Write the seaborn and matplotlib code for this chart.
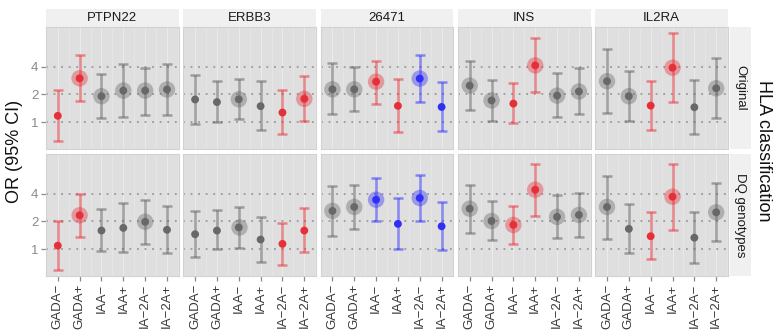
import numpy as np
import pandas as pd
import matplotlib
matplotlib.use("Agg")
import matplotlib.pyplot as plt
import seaborn as sns
from matplotlib.patches import Rectangle

genes = ["PTPN22", "ERBB3", "26471", "INS", "IL2RA"]
hla_levels = ["Original", "DQ genotypes"]
groups = ["GADA−", "GADA+", "IAA−", "IAA+", "IA−2A−", "IA−2A+"]

# Original HLA classification: odds ratios and 95% CI per gene
or_original = [
    [1.17, 2.99, 1.91, 2.20, 2.20, 2.26],
    [1.76, 1.65, 1.77, 1.49, 1.27, 1.79],
    [2.27, 2.27, 2.75, 1.50, 2.97, 1.46],
    [2.49, 1.72, 1.59, 4.13, 1.94, 2.15],
    [2.78, 1.91, 1.51, 3.90, 1.45, 2.33],
]
lo_original = [
    [0.62, 1.70, 1.11, 1.13, 1.20, 1.20],
    [0.95, 0.99, 1.07, 0.83, 0.74, 1.02],
    [1.22, 1.31, 1.59, 0.78, 1.66, 0.81],
    [1.36, 1.03, 0.97, 2.13, 1.13, 1.23],
    [1.25, 1.03, 0.83, 1.66, 0.74, 1.11],
]
hi_original = [
    [2.24, 5.30, 3.33, 4.28, 3.90, 4.24],
    [3.28, 2.80, 2.94, 2.78, 2.24, 3.14],
    [4.35, 3.97, 4.65, 2.92, 5.30, 2.71],
    [4.60, 2.87, 2.64, 8.20, 3.39, 3.84],
    [6.20, 3.62, 2.80, 9.30, 2.87, 5.00],
]
sig_original = ["rrnnnn", "nnnnrr", "nnrrbb", "nnrrnn", "nnrrnn"]
big_original = ["SLLLLL", "SSLSSL", "LLLSLS", "LLSLLL", "LLSLSL"]

# DQ genotypes
or_dq = [
    [1.09, 2.33, 1.59, 1.70, 1.98, 1.62],
    [1.45, 1.59, 1.72, 1.27, 1.14, 1.59],
    [2.60, 2.87, 3.44, 1.88, 3.59, 1.77],
    [2.75, 2.02, 1.83, 4.42, 2.24, 2.35],
    [2.87, 1.66, 1.38, 3.71, 1.33, 2.51],
]
lo_dq = [
    [0.59, 1.37, 0.95, 0.92, 1.13, 0.90],
    [0.83, 0.99, 1.04, 0.73, 0.68, 0.94],
    [1.40, 1.66, 2.02, 1.00, 2.00, 0.98],
    [1.51, 1.24, 1.13, 2.30, 1.31, 1.35],
    [1.30, 0.90, 0.78, 1.60, 0.70, 1.22],
]
hi_dq = [
    [2.04, 4.00, 2.73, 3.17, 3.44, 2.97],
    [2.62, 2.69, 2.87, 2.25, 1.94, 2.77],
    [4.89, 5.00, 5.95, 3.59, 6.40, 3.22],
    [5.00, 3.33, 2.97, 8.40, 3.87, 4.06],
    [6.30, 3.10, 2.51, 8.50, 2.53, 5.27],
]
sig_dq = ["rrnnnn", "nnnnrr", "nnbbbb", "nnrrnn", "nnrrnn"]
big_dq = ["SLSSLS", "SSLSSS", "LLLSLS", "LLLLLL", "LSSLSL"]

rows = []
for h, ors, los, his, sigs, bigs in [
    ("Original", or_original, lo_original, hi_original, sig_original, big_original),
    ("DQ genotypes", or_dq, lo_dq, hi_dq, sig_dq, big_dq),
]:
    for gi, g in enumerate(genes):
        for k, grp in enumerate(groups):
            rows.append(dict(hla=h, gene=g, group=grp, OR=ors[gi][k], lo=los[gi][k],
                             hi=his[gi][k], sig=sigs[gi][k], big=bigs[gi][k] == "L"))
df = pd.DataFrame(rows)
df["pos"] = pd.Categorical(df["group"], categories=groups).codes

dot_pal = {"n": "#686868", "r": "#e5303a", "b": "#3030f5"}
bar_pal = {"n": "#5a5a5a", "r": "#e82830", "b": "#2828ff"}

sns.set_style("white")
plt.rcParams["font.family"] = ["Liberation Sans", "DejaVu Sans"]

fig, axes = plt.subplots(2, 5, figsize=(7.73, 3.33), dpi=100, sharex=True, sharey=True)
fig.patch.set_facecolor("white")
fig.subplots_adjust(left=46 / 773, right=728 / 773, top=1 - 27 / 333,
                    bottom=1 - 276 / 333, wspace=0.034, hspace=0.041)

for ri, h in enumerate(hla_levels):
    for ci, g in enumerate(genes):
        ax = axes[ri, ci]
        ax.set_facecolor("#dfdfdf")
        sub = df[(df.hla == h) & (df.gene == g)]
        ax.set_yscale("log", base=2)
        ax.set_ylim(0.51, 10.8)
        ax.set_xlim(-0.54, 5.54)
        # grid
        for xv in range(len(groups)):
            ax.axvline(xv, color="white", lw=0.8, alpha=0.4, zorder=0)
            ax.axvline(xv + 0.5, color="white", lw=0.5, alpha=0.3, zorder=0)
        for yv in [1, 2, 4]:
            ax.axhline(yv, color="#9a9a9a", lw=1.3, ls=(0, (1, 3.2)), zorder=0.5)
        # error bars
        for s, part in sub.groupby("sig"):
            ax.errorbar(part["pos"], part["OR"],
                        yerr=[part["OR"] - part["lo"], part["hi"] - part["OR"]],
                        fmt="none", ecolor=bar_pal[s], alpha=0.5, elinewidth=1.8,
                        capsize=3.8, capthick=1.8, zorder=2)
        bigs = sub[sub.big]
        if len(bigs):
            sns.scatterplot(data=bigs, x="pos", y="OR", hue="sig", palette=dot_pal,
                            s=140, alpha=0.4, linewidth=0, legend=False, ax=ax, zorder=3)
        sns.scatterplot(data=sub, x="pos", y="OR", hue="sig", palette=dot_pal,
                        s=32, linewidth=0, legend=False, ax=ax, zorder=4)
        ax.set_xlabel("")
        ax.set_ylabel("")
        for sp in ax.spines.values():
            sp.set_color("#d2d2d2")
            sp.set_linewidth(0.8)
        ax.set_yticks([1, 2, 4])
        ax.set_yticklabels(["1", "2", "4"])
        ax.minorticks_off()
        ax.set_yticks([], minor=True)
        ax.set_xticks(range(len(groups)))
        ax.set_xticklabels(groups, rotation=90)
        ax.tick_params(axis="y", left=(ci == 0), length=3.5, width=0.9, color="#8a8a8a",
                       labelcolor="#8a8a8a", labelsize=9.5, pad=2, labelleft=(ci == 0))
        ax.tick_params(axis="x", bottom=(ri == 1), length=3.5, width=0.9, color="#8a8a8a",
                       labelcolor="#3a3a3a", labelsize=9.5, pad=2, labelbottom=(ri == 1))
        if ri == 0:
            ax.add_patch(Rectangle((0, 1), 1, 18 / 122, transform=ax.transAxes,
                                   clip_on=False, facecolor="#f0f0f0", edgecolor="none"))
            ax.text(0.5, 1 + 9.5 / 122, g, transform=ax.transAxes, ha="center",
                    va="center", fontsize=9.5, color="#1a1a1a")
        if ci == 4:
            ax.add_patch(Rectangle((1 + 2 / 134, 0), 21 / 134, 1, transform=ax.transAxes,
                                   clip_on=False, facecolor="#f0f0f0", edgecolor="none"))
            ax.text(1 + 12.5 / 134, 0.5, h, transform=ax.transAxes, ha="center",
                    va="center", rotation=-90, fontsize=9.5, color="#1a1a1a")

fig.text(15 / 773, 1 - 151 / 333, "OR (95% CI)", rotation=90, ha="center", va="center",
         fontsize=13, color="#111111")
fig.text(772 / 773, 1 - 151 / 333, "HLA classification", rotation=-90, ha="right",
         va="center", fontsize=13, color="#111111")

fig.savefig("out.png", dpi=100, facecolor="white")
